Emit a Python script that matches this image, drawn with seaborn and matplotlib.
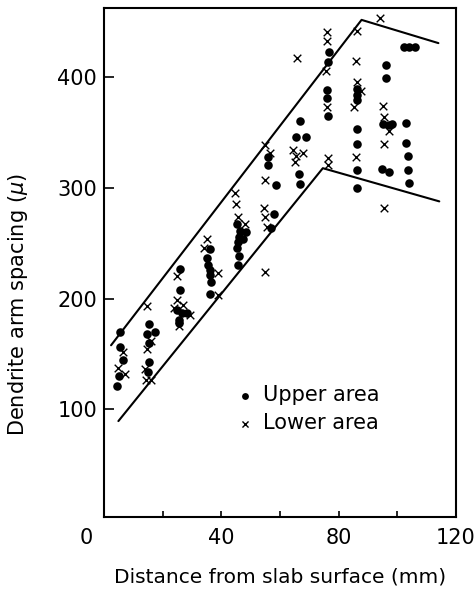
import numpy as np
import pandas as pd
import matplotlib
matplotlib.use("Agg")
import matplotlib.pyplot as plt
import matplotlib.transforms as mtrans
import seaborn as sns

# Upper area (filled dots)
upper_x = [5.5, 5.5, 6.5, 5.0, 4.5,
           15.2, 14.6, 17.4, 15.5, 15.5, 15.0,
           26.0, 26.0, 25.0, 26.5, 28.3, 25.4, 25.4,
           36.0, 35.1, 35.6, 36.0, 36.2, 36.4, 36.2,
           45.3, 46.5, 48.5, 46.0, 47.4, 45.6, 45.3, 46.0, 45.6,
           55.8, 55.8, 58.5, 57.9, 57.0,
           66.8, 65.3, 68.7, 66.4, 66.8,
           76.7, 76.4, 76.0, 76.0, 76.4,
           86.4, 86.2, 86.4, 86.2, 86.4, 86.2, 86.4,
           96.0, 96.0, 95.2, 97.2, 98.3, 94.9, 97.2,
           102.3, 104.0, 106.0, 102.9, 102.9, 103.5, 103.7, 104.0]
upper_y = [170, 156, 145, 130, 121,
           177, 168, 170, 160, 142.5, 133.5,
           227, 208, 189.5, 187, 187, 181, 178,
           245, 237, 230.6, 226, 221.6, 215.6, 204,
           268, 261, 260, 256, 254, 251, 246, 239, 230.6,
           328, 320.7, 302.7, 277, 263.7,
           361, 346, 346, 313, 304,
           423, 413.8, 389, 381.6, 365,
           389.8, 383.8, 380, 353.8, 339.6, 316.8, 299.7,
           410.8, 399.7, 358.3, 356.8, 357.7, 317.7, 314.7,
           427.3, 427.3, 427.3, 358.8, 340.8, 328.8, 316.2, 304.8]

# Lower area (crosses)
lower_x = [6.6, 4.9, 7.2,
           14.6, 16.0, 14.6, 14.0, 14.3, 15.9,
           25.0, 25.0, 27.0, 24.0, 29.4, 25.4,
           35.1, 34.0, 39.0, 38.7,
           44.5, 45.0, 45.6, 48.0,
           55.0, 56.5, 55.0, 54.7, 55.0, 55.5, 55.0,
           65.9, 64.5, 67.9, 65.3, 65.0,
           75.9, 76.0, 75.6, 76.0, 76.4, 76.2,
           86.4, 85.8, 86.4, 87.7, 85.2, 85.8,
           94.1, 95.2, 95.5, 97.2, 95.3, 95.5]
lower_y = [151.6, 137.6, 132.4,
           193.5, 161.5, 155, 137, 127, 127,
           221, 199, 194, 191.6, 185.6, 175,
           253.8, 245.7, 223.7, 203.6,
           296, 286, 274, 268,
           338.7, 331.5, 307, 281.7, 274, 265, 224.6,
           417.7, 334, 331.8, 328.8, 323.7,
           440.8, 433, 406, 373, 326.8, 320.7,
           442, 415, 395.8, 388, 373, 328,
           454, 373.9, 364, 351.6, 339.6, 281.7]

# envelope lines
upper_env_x = [2.4, 87.8, 114.0]
upper_env_y = [158, 452, 431]
lower_env_x = [4.9, 74.6, 114.3]
lower_env_y = [89.5, 318, 288]

x_ticks = [0, 40, 80, 120]
y_ticks = [100, 200, 300, 400]

sns.set_style("ticks")
plt.rcParams['font.family'] = ['DejaVu Sans']
plt.rcParams['text.color'] = 'black'
plt.rcParams['axes.labelcolor'] = 'black'
plt.rcParams['xtick.color'] = 'black'
plt.rcParams['ytick.color'] = 'black'
plt.rcParams['axes.edgecolor'] = 'black'

up = pd.DataFrame({"x": upper_x, "y": upper_y})
lo = pd.DataFrame({"x": lower_x, "y": lower_y})

fig = plt.figure(figsize=(4.75, 5.92), dpi=100)
ax = fig.add_axes([0.219, 0.127, 0.741, 0.86])

ax.plot(upper_env_x, upper_env_y, color="black", lw=1.5)
ax.plot(lower_env_x, lower_env_y, color="black", lw=1.5)

sns.scatterplot(data=up, x="x", y="y", ax=ax, marker="o", s=38,
                color="black", edgecolor="black", linewidth=0, label="Upper area")
sns.scatterplot(data=lo, x="x", y="y", ax=ax, marker="x", s=30,
                color="black", linewidth=1.0, label="Lower area")

ax.set_xlim(0, 120)
ax.set_ylim(3, 463)
ax.set_xticks(x_ticks)
ax.set_xticks([20, 60, 100], minor=True)
ax.set_yticks(y_ticks)
ax.tick_params(axis="x", which="both", direction="in", length=4, width=1.2,
               labelsize=15, pad=8, top=False)
ax.tick_params(axis="y", which="both", direction="in", length=7, width=1.2,
               labelsize=15, pad=5, right=False)
for sp in ax.spines.values():
    sp.set_linewidth(1.5)
    sp.set_visible(True)

ax.set_xlabel("Distance from slab surface (mm)", fontsize=14.5, labelpad=14)
ax.set_ylabel(r"Dendrite arm spacing ($\mu$)", fontsize=15)
ax.yaxis.set_label_coords(-0.21, 0.417)

# shift the 0 label to the left of the axis like in the original
t0 = ax.xaxis.get_major_ticks()[0].label1
t0.set_transform(t0.get_transform() + mtrans.ScaledTranslation(-0.18, 0, fig.dpi_scale_trans))

ax.legend(loc="upper left", bbox_to_anchor=(0.34, 0.275), frameon=False,
          fontsize=15, handletextpad=0.3, labelspacing=0.4, borderaxespad=0,
          handlelength=1.2, markerscale=0.8)

fig.savefig("out.png", dpi=100)
